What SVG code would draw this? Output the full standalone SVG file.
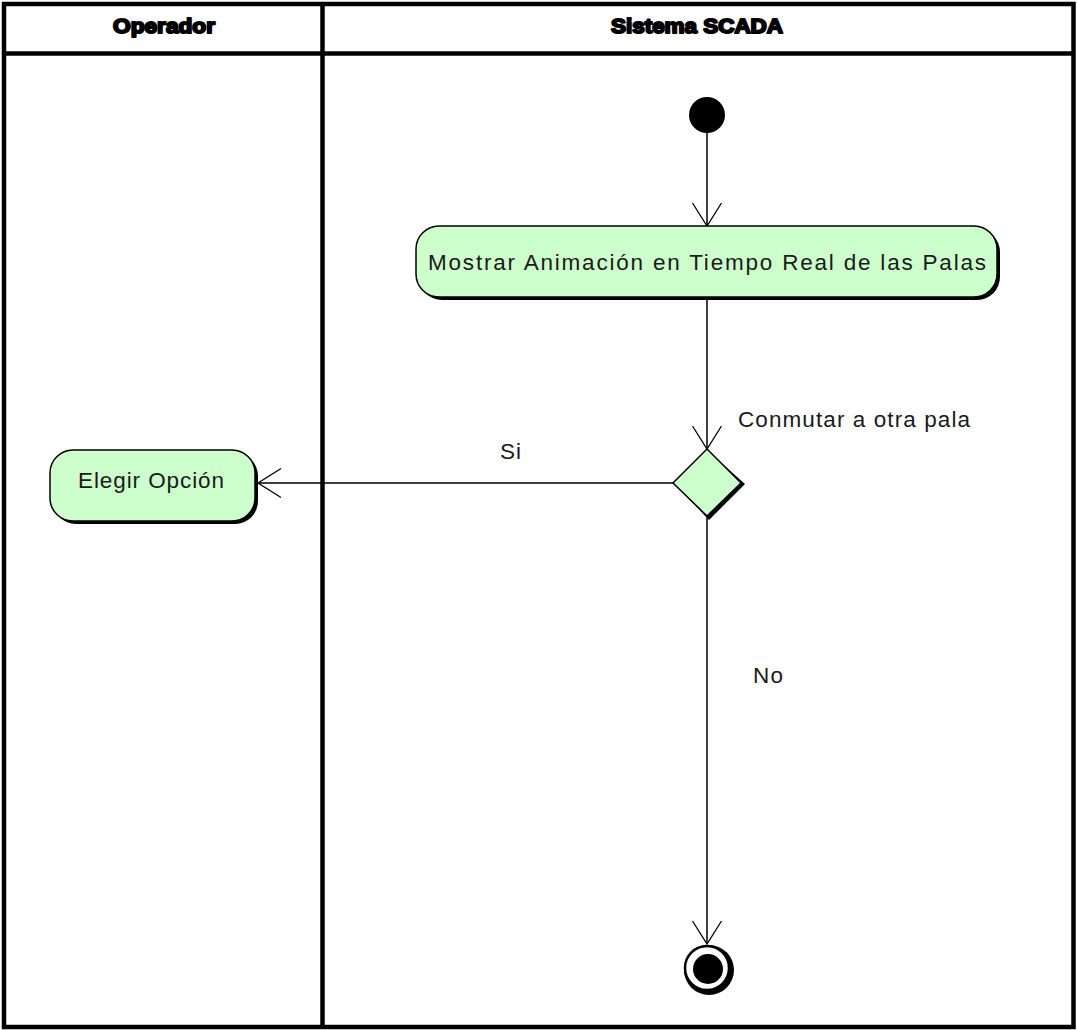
<svg xmlns="http://www.w3.org/2000/svg" width="1077" height="1030" viewBox="0 0 1077 1030">
  <style>
    .lane { fill: none; stroke: #000; stroke-width: 4.5; }
    .head { font-family: "Liberation Sans", Arial, sans-serif; font-weight: bold; font-size: 21px; fill: #000; stroke: #000; stroke-width: 2; stroke-linejoin: round; }
    .act { fill: #ccffcc; stroke: #000; stroke-width: 1.5; }
    .shadow { fill: #000; }
    .label { font-family: "Liberation Sans", Arial, sans-serif; font-size: 22.5px; fill: #1a1a1a; }
    .flow { fill: none; stroke: #000; stroke-width: 1.5; }
  </style>
  <defs>
    <marker id="open" markerUnits="userSpaceOnUse" markerWidth="30" markerHeight="34" viewBox="-25 -17 30 34" refX="0" refY="0" orient="auto">
      <path d="M -23 -14.5 L 0 0 L -23 14.5" fill="none" stroke="#000" stroke-width="1.3"/>
    </marker>
  </defs>

  <rect width="1077" height="1030" fill="#fff"/>

  <!-- swimlanes -->
  <g id="lanes">
    <rect class="lane" x="4" y="4" width="1069.5" height="1023"/>
    <line class="lane" x1="4" y1="53.5" x2="1073.5" y2="53.5"/>
    <line class="lane" x1="322.5" y1="4" x2="322.5" y2="1027"/>
    <text class="head" x="164" y="33" text-anchor="middle" textLength="102" lengthAdjust="spacingAndGlyphs">Operador</text>
    <text class="head" x="697" y="33" text-anchor="middle" textLength="172" lengthAdjust="spacingAndGlyphs">Sistema SCADA</text>
  </g>

  <!-- connectors -->
  <g id="connectors">
    <line class="flow" x1="707" y1="130" x2="707" y2="226" marker-end="url(#open)"/>
    <line class="flow" x1="707" y1="298" x2="707" y2="449" marker-end="url(#open)"/>
    <line class="flow" x1="673" y1="483" x2="258" y2="483" marker-end="url(#open)"/>
    <line class="flow" x1="707" y1="517" x2="707" y2="944" marker-end="url(#open)"/>
    <text class="label" x="738" y="427" textLength="232" lengthAdjust="spacing">Conmutar a otra pala</text>
    <text class="label" x="500" y="459" textLength="21" lengthAdjust="spacing">Si</text>
    <text class="label" x="753" y="683" textLength="30" lengthAdjust="spacing">No</text>
  </g>

  <!-- start -->
  <g id="start">
    <circle cx="707" cy="115" r="18" fill="#000"/>
  </g>

  <!-- activity: show blade animation -->
  <g id="mostrar">
    <rect class="shadow" x="419" y="229" width="581" height="71" rx="23" ry="23"/>
    <rect class="act" x="416" y="226" width="581" height="71" rx="23" ry="23"/>
    <text class="label" x="707" y="270" text-anchor="middle" textLength="558" lengthAdjust="spacing">Mostrar Animación en Tiempo Real de las Palas</text>
  </g>

  <!-- activity: choose option -->
  <g id="elegir">
    <rect class="shadow" x="53" y="453" width="205" height="71" rx="23" ry="23"/>
    <rect class="act" x="50" y="450" width="205" height="71" rx="23" ry="23"/>
    <text class="label" x="151" y="488" text-anchor="middle" textLength="146" lengthAdjust="spacing">Elegir Opción</text>
  </g>

  <!-- decision -->
  <g id="decision">
    <polygon class="shadow" points="707,450 745,484 709,520 675,484"/>
    <polygon class="act" points="707,449 741,483 707,516 673,483"/>
  </g>

  <!-- end -->
  <g id="end">
    <circle cx="709" cy="970" r="25" fill="#000"/>
    <circle cx="707" cy="968" r="22" fill="#fff" stroke="#000" stroke-width="2.5"/>
    <circle cx="708" cy="969" r="15" fill="#000"/>
  </g>
</svg>
